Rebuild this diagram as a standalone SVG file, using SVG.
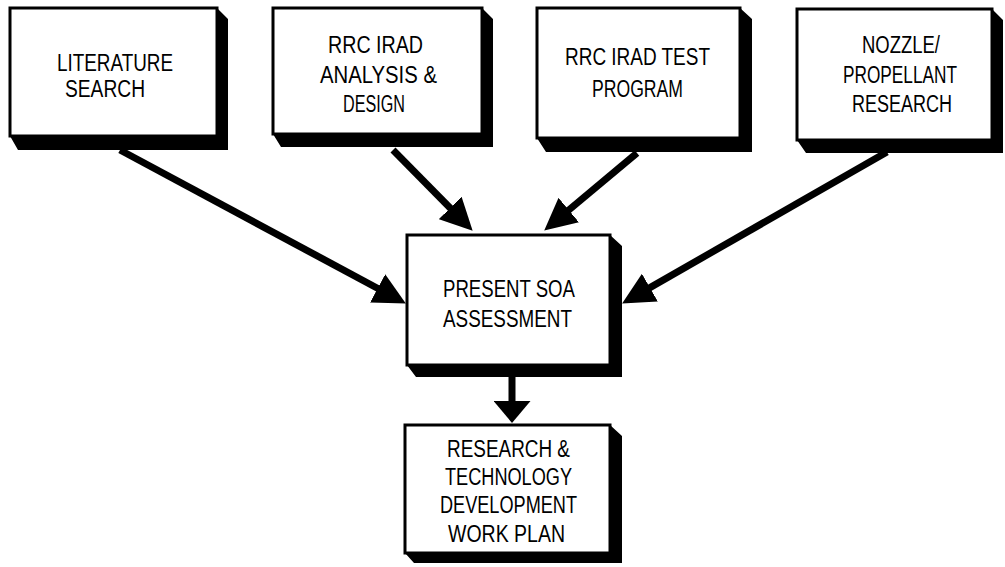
<svg xmlns="http://www.w3.org/2000/svg" width="1005" height="567" viewBox="0 0 1005 567">
<defs>
<style>
.face{fill:#fff;stroke:#000;stroke-width:3}
.shadow{fill:#000}
.lbl{font-family:"Liberation Sans",Arial,sans-serif;font-size:23px;fill:#000;text-anchor:start}
.conn{stroke:#000;stroke-width:7;fill:none}
</style>
<marker id="head" markerUnits="userSpaceOnUse" markerWidth="32" markerHeight="32" refX="13" refY="16" orient="auto" viewBox="0 0 32 32">
<path d="M0,0 L32,16 L0,32 z" fill="#000"/>
</marker>
<marker id="headDown" markerUnits="userSpaceOnUse" markerWidth="22" markerHeight="37" refX="4" refY="18.5" orient="auto" viewBox="0 0 22 37">
<path d="M0,0 L22,18.5 L0,37 z" fill="#000"/>
</marker>
</defs>
<rect width="1005" height="567" fill="#fff"/>

<g id="n-literature">
<polygon class="shadow" points="217,8 228,19 228,150 18,150 10,136 217,136"/>
<rect class="face" x="10" y="8" width="207" height="128"/>
<text class="lbl" x="57" y="71" textLength="116" lengthAdjust="spacingAndGlyphs">LITERATURE</text>
<text class="lbl" x="65" y="97" textLength="80" lengthAdjust="spacingAndGlyphs">SEARCH</text>
</g>

<g id="n-analysis">
<polygon class="shadow" points="482,8 493,19 493,147 281,147 273,134 482,134"/>
<rect class="face" x="273" y="8" width="209" height="126"/>
<text class="lbl" x="328" y="53" textLength="95" lengthAdjust="spacingAndGlyphs">RRC IRAD</text>
<text class="lbl" x="320" y="83" textLength="117" lengthAdjust="spacingAndGlyphs">ANALYSIS &amp;</text>
<text class="lbl" x="343" y="112" textLength="62" lengthAdjust="spacingAndGlyphs">DESIGN</text>
</g>

<g id="n-test">
<polygon class="shadow" points="740,8 752,19 752,152 546,152 537,138 740,138"/>
<rect class="face" x="537" y="8" width="203" height="130"/>
<text class="lbl" x="565" y="65" textLength="145" lengthAdjust="spacingAndGlyphs">RRC IRAD TEST</text>
<text class="lbl" x="592" y="97" textLength="91" lengthAdjust="spacingAndGlyphs">PROGRAM</text>
</g>

<g id="n-nozzle">
<polygon class="shadow" points="992,9 1003,20 1003,153 806,153 797,140 992,140"/>
<rect class="face" x="797" y="9" width="195" height="131"/>
<text class="lbl" x="862" y="53" textLength="78" lengthAdjust="spacingAndGlyphs">NOZZLE/</text>
<text class="lbl" x="843" y="83" textLength="114" lengthAdjust="spacingAndGlyphs">PROPELLANT</text>
<text class="lbl" x="852" y="112" textLength="100" lengthAdjust="spacingAndGlyphs">RESEARCH</text>
</g>

<g id="n-soa">
<polygon class="shadow" points="610,235 622,246 622,377 416,377 407,365 610,365"/>
<rect class="face" x="407" y="235" width="203" height="130"/>
<text class="lbl" x="443" y="297" textLength="132" lengthAdjust="spacingAndGlyphs">PRESENT SOA</text>
<text class="lbl" x="443" y="327" textLength="129" lengthAdjust="spacingAndGlyphs">ASSESSMENT</text>
</g>

<g id="n-workplan">
<polygon class="shadow" points="610,425 622,436 622,563 414,563 405,553 610,553"/>
<rect class="face" x="405" y="425" width="205" height="128"/>
<text class="lbl" x="447" y="457" textLength="123" lengthAdjust="spacingAndGlyphs">RESEARCH &amp;</text>
<text class="lbl" x="445" y="485" textLength="127" lengthAdjust="spacingAndGlyphs">TECHNOLOGY</text>
<text class="lbl" x="440" y="513" textLength="137" lengthAdjust="spacingAndGlyphs">DEVELOPMENT</text>
<text class="lbl" x="448" y="542" textLength="117" lengthAdjust="spacingAndGlyphs">WORK PLAN</text>
</g>

<g id="connectors">
<line class="conn" x1="120" y1="150" x2="389.1" y2="294.5" marker-end="url(#head)"/>
<line class="conn" x1="393" y1="150" x2="459.3" y2="217.2" marker-end="url(#head)"/>
<line class="conn" x1="637" y1="153" x2="558.8" y2="218.4" marker-end="url(#head)"/>
<line class="conn" x1="887" y1="152" x2="638.6" y2="294.1" marker-end="url(#head)"/>
<line class="conn" x1="512" y1="377" x2="512" y2="405" stroke-width="8" marker-end="url(#headDown)"/>
</g>
</svg>
